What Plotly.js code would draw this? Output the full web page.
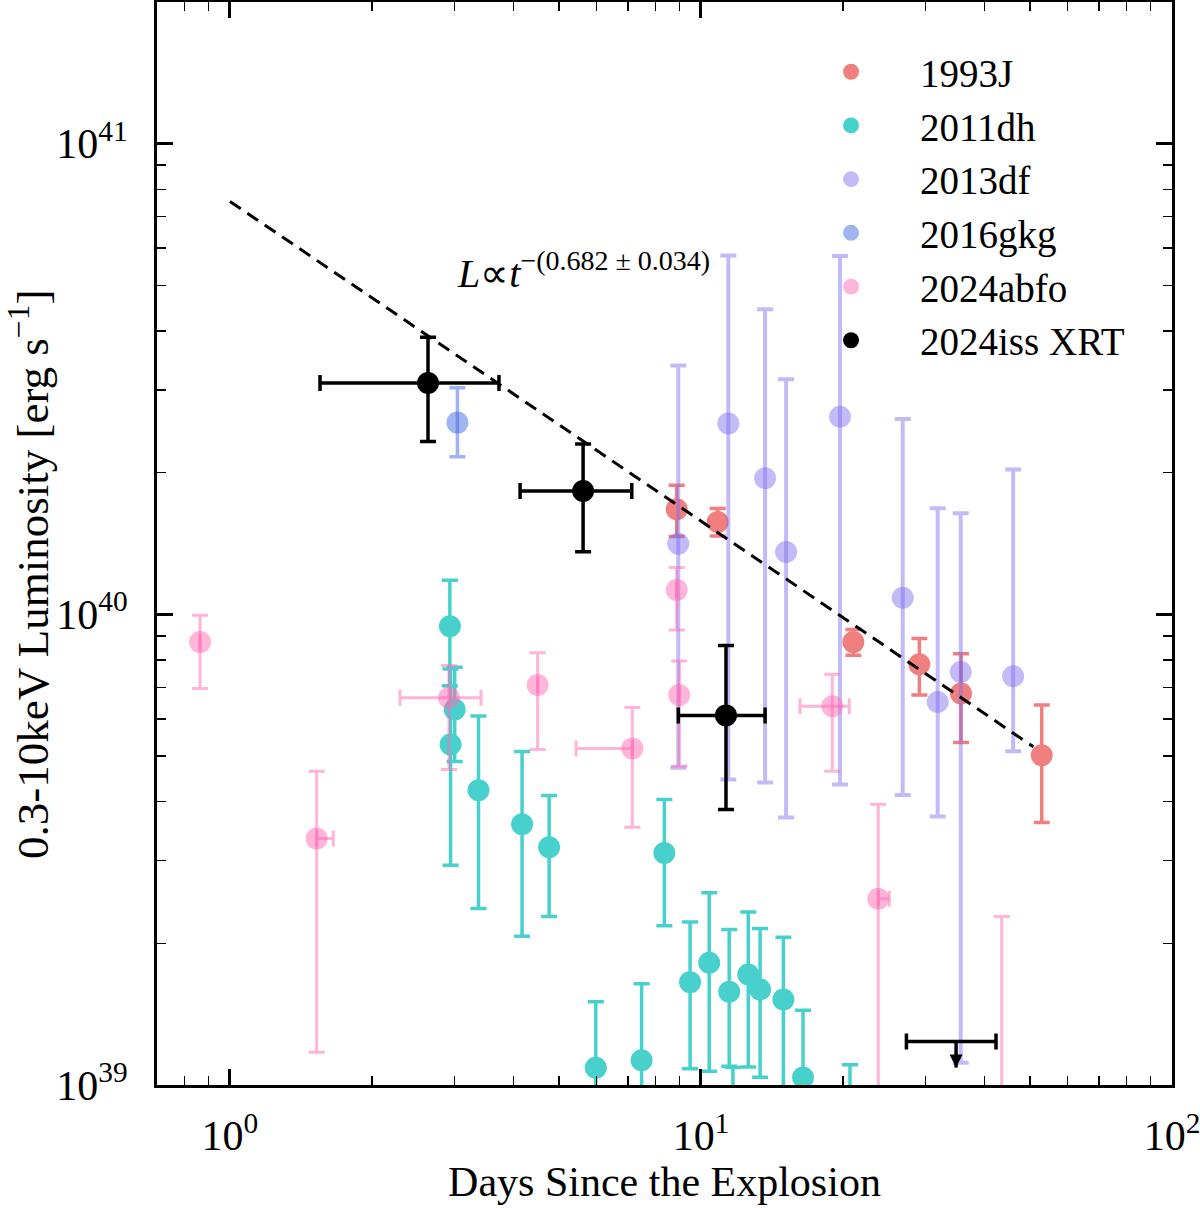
<!DOCTYPE html>
<html><head><meta charset="utf-8">
<script src="https://cdn.plot.ly/plotly-3.0.1.min.js"></script>
<style>body{margin:0;background:#fff}</style>
</head><body>
<div id="chart" style="width:1200px;height:1208px"></div>
<script>
// ---- data (days since explosion, 0.3-10 keV luminosity in erg/s) ----
const sn1993J_t   = [8.88, 10.85, 21.06, 29.08, 35.65, 52.9];
const sn1993J_L   = [1.672e40, 1.571e40, 8.73e39, 7.83e39, 6.79e39, 5.02e39];
const sn1993J_Lhi = [1.880e40, 1.678e40, 9.29e39, 8.89e39, 8.25e39, 6.42e39];
const sn1993J_Llo = [1.463e40, 1.467e40, 8.19e39, 6.74e39, 5.34e39, 3.61e39];

const sn2011dh_t   = [2.93, 2.94, 3.00, 3.37, 4.17, 4.76, 5.98, 7.48, 8.36, 9.48, 10.41, 11.48, 11.69, 12.60, 13.35, 14.96, 16.47, 20.72];
const sn2011dh_L   = [9.43e39, 5.29e39, 6.28e39, 4.23e39, 3.58e39, 3.20e39, 1.088e39, 1.129e39, 3.11e39, 1.654e39, 1.818e39, 1.578e39, 0.80e39, 1.717e39, 1.596e39, 1.520e39, 1.037e39, 0.80e39];
const sn2011dh_Lhi = [1.181e40, 7.65e39, 7.72e39, 6.08e39, 5.11e39, 4.12e39, 1.502e39, 1.641e39, 4.04e39, 2.22e39, 2.56e39, 2.14e39, 1.09e39, 2.33e39, 2.15e39, 2.06e39, 1.442e39, 1.104e39];
const sn2011dh_Llo = [7.05e39, 2.93e39, 4.87e39, 2.37e39, 2.07e39, 2.28e39, 0.674e39, 0.62e39, 2.18e39, 1.083e39, 1.070e39, 1.096e39, 0.55e39, 1.092e39, 1.039e39, 0.98e39, 0.63e39, 0.50e39];

const sn2013df_t   = [8.95, 11.43, 13.68, 15.16, 19.73, 26.81, 31.81, 35.6, 46.0];
const sn2013df_L   = [1.413e40, 2.543e40, 1.946e40, 1.356e40, 2.63e40, 1.085e40, 6.51e39, 7.54e39, 7.39e39];
const sn2013df_Lhi = [3.38e40, 5.79e40, 4.45e40, 3.16e40, 5.77e40, 2.60e40, 1.68e40, 1.639e40, 2.03e40];
const sn2013df_Llo = [4.72e39, 4.46e39, 4.39e39, 3.70e39, 4.35e39, 4.13e39, 3.72e39, 1.115e39, 5.12e39];

const sn2016gkg_t   = [3.04];
const sn2016gkg_L   = [2.555e40];
const sn2016gkg_Lhi = [3.03e40];
const sn2016gkg_Llo = [2.163e40];

const sn2024abfo_t   = [0.864, 1.528, 2.917, 4.50, 7.15, 8.88, 8.99, 19.00, 23.79, 43.5];
const sn2024abfo_tlo = [0.864, 1.528, 2.296, 4.50, 5.43, 8.88, 8.99, 16.23, 23.79, 43.5];
const sn2024abfo_thi = [0.864, 1.657, 3.412, 4.50, 7.15, 8.88, 8.99, 20.65, 25.11, 43.5];
const sn2024abfo_L   = [8.73e39, 3.34e39, 6.65e39, 7.08e39, 5.19e39, 1.126e40, 6.74e39, 6.38e39, 2.487e39, 0.80e39];
const sn2024abfo_Lhi = [9.95e39, 4.64e39, 7.79e39, 8.29e39, 6.34e39, 1.257e40, 7.96e39, 7.46e39, 3.95e39, 2.28e39];
const sn2024abfo_Llo = [6.96e39, 1.174e39, 4.68e39, 5.16e39, 3.53e39, 9.26e39, 4.76e39, 4.64e39, 0.69e39, 0.50e39];

const sn2024iss_t   = [2.633, 5.62, 11.30];
const sn2024iss_tlo = [1.553, 4.13, 8.95];
const sn2024iss_thi = [3.725, 7.13, 13.68];
const sn2024iss_L   = [3.10e40, 1.828e40, 6.10e39];
const sn2024iss_Lhi = [3.88e40, 2.30e40, 8.59e39];
const sn2024iss_Llo = [2.33e40, 1.359e40, 3.85e39];

// 2024iss XRT upper limit
const ul_t   = [34.8];
const ul_tlo = [27.3];
const ul_thi = [42.3];
const ul_L   = [1.237e39];
const ul_arrowTo = [1.089e39];

// power-law fit L ∝ t^-(0.682±0.034), endpoints
const fit_t = [1.0, 50.8];
const fit_L = [7.54e40, 5.23e39];

// tick labels
const xTickVals = [1, 10, 100];
const xTickText = ['10<sup>0</sup>', '10<sup>1</sup>', '10<sup>2</sup>'];
const yTickVals = [1e39, 1e40, 1e41];
const yTickText = ['10<sup>39</sup>', '10<sup>40</sup>', '10<sup>41</sup>'];

const FONT = 'Liberation Serif, Times New Roman, serif';

function diff(a, b) { return a.map((v, i) => v - b[i]); }

function makeTrace(name, t, L, Lhi, Llo, tlo, thi, mColor, eColor, thick) {
  const tr = {
    type: 'scatter', mode: 'markers', name: name,
    x: t, y: L,
    marker: { size: 22, color: mColor, line: { width: 0 } },
    error_y: { type: 'data', symmetric: false, array: diff(Lhi, L), arrayminus: diff(L, Llo),
               color: eColor, thickness: thick, width: 8 },
    cliponaxis: true
  };
  if (tlo) {
    tr.error_x = { type: 'data', symmetric: false, array: diff(thi, t), arrayminus: diff(t, tlo),
                   color: eColor, thickness: thick, width: 8 };
  }
  return tr;
}

const data = [
  makeTrace('1993J', sn1993J_t, sn1993J_L, sn1993J_Lhi, sn1993J_Llo, null, null,
            'rgb(240,128,128)', 'rgb(240,128,128)', 3.5),
  makeTrace('2011dh', sn2011dh_t, sn2011dh_L, sn2011dh_Lhi, sn2011dh_Llo, null, null,
            'rgb(72,209,204)', 'rgb(72,209,204)', 3.5),
  makeTrace('2013df', sn2013df_t, sn2013df_L, sn2013df_Lhi, sn2013df_Llo, null, null,
            'rgba(123,104,238,0.45)', 'rgba(123,104,238,0.45)', 4),
  makeTrace('2016gkg', sn2016gkg_t, sn2016gkg_L, sn2016gkg_Lhi, sn2016gkg_Llo, null, null,
            'rgba(65,105,225,0.5)', 'rgba(65,105,225,0.5)', 3.5),
  makeTrace('2024abfo', sn2024abfo_t, sn2024abfo_L, sn2024abfo_Lhi, sn2024abfo_Llo, sn2024abfo_tlo, sn2024abfo_thi,
            'rgba(255,105,180,0.5)', 'rgba(255,105,180,0.5)', 3),
  makeTrace('2024iss XRT', sn2024iss_t, sn2024iss_L, sn2024iss_Lhi, sn2024iss_Llo, sn2024iss_tlo, sn2024iss_thi,
            'black', 'black', 3.5),
  {
    type: 'scatter', mode: 'markers', name: '2024iss XRT upper limit', showlegend: false,
    x: ul_t, y: ul_L, marker: { size: 1, color: 'rgba(0,0,0,0)' },
    error_x: { type: 'data', symmetric: false, array: diff(ul_thi, ul_t), arrayminus: diff(ul_t, ul_tlo),
               color: 'black', thickness: 3.5, width: 8 },
    error_y: { type: 'data', symmetric: false, array: [0], arrayminus: diff(ul_L, ul_arrowTo),
               color: 'black', thickness: 3.5, width: 0 }
  },
  {
    type: 'scatter', mode: 'markers', name: 'upper-limit arrow', showlegend: false,
    x: ul_t, y: ul_arrowTo, marker: { symbol: 'arrow-down', size: 13, color: 'black', line: { width: 0 } }
  },
  {
    type: 'scatter', mode: 'lines', name: 'fit', showlegend: false,
    x: fit_t, y: fit_L, line: { color: 'black', width: 3, dash: '13px,8px' }
  }
];

function minorVals(decStart, decEnd, lo, hi) {
  const v = [];
  for (let d = decStart; d <= decEnd; d++) for (let k = 2; k <= 9; k++) {
    const val = k * Math.pow(10, d);
    if (val >= lo && val <= hi) v.push(val);
  }
  return v;
}

const axisCommon = {
  type: 'log', showgrid: false, zeroline: false,
  showline: true, linewidth: 3, linecolor: 'black', mirror: 'allticks',
  ticks: 'inside', ticklen: 16, tickwidth: 3, tickcolor: 'black',
  tickfont: { family: FONT, size: 42, color: 'black' },
  ticklabeloverflow: 'allow',
  automargin: false
};

const layout = {
  width: 1200, height: 1208,
  margin: { l: 157, r: 28, t: 2, b: 123 },
  paper_bgcolor: 'white', plot_bgcolor: 'white',
  showlegend: true,
  legend: {
    x: 0.6158, xanchor: 'left', y: 0.965, yanchor: 'top',
    font: { family: FONT, size: 39, color: 'black' },
    bgcolor: 'rgba(0,0,0,0)', borderwidth: 0, itemwidth: 128
  },
  xaxis: Object.assign({}, axisCommon, {
    range: [Math.log10(0.7), 2],
    tickvals: xTickVals,
    ticktext: xTickText,
    ticklabelstandoff: 12,
    minor: { ticks: 'inside', ticklen: 9, tickwidth: 1.5, tickcolor: 'black', tickvals: minorVals(-1, 1, 0.7, 100), showgrid: false },
    title: { text: 'Days Since the Explosion', font: { family: FONT, size: 42, color: 'black' }, standoff: 0 }
  }),
  yaxis: Object.assign({}, axisCommon, {
    range: [39, Math.log10(2e41)],
    tickvals: yTickVals,
    ticktext: yTickText,
    ticklabelstandoff: 18,
    minor: { ticks: 'inside', ticklen: 9, tickwidth: 1.5, tickcolor: 'black', tickvals: minorVals(39, 41, 1e39, 2e41), showgrid: false }
  }),
  annotations: [
    {
      xref: 'paper', yref: 'paper', x: -0.1251, y: 0.471, xanchor: 'center', yanchor: 'middle',
      textangle: -90,
      text: '0.3-10keV Luminosity [erg s<sup>−1</sup>]',
      showarrow: false, font: { family: FONT, size: 45, color: 'black' }
    },
    {
      xref: 'paper', yref: 'paper', x: 0.2936, y: 0.7525, xanchor: 'left', yanchor: 'middle',
      text: '<i>L</i>∝<i>t</i><sup>−(0.682 ± 0.034)</sup>',
      showarrow: false, font: { family: FONT, size: 40, color: 'black' }
    }
  ],
  hovermode: false
};

Plotly.newPlot('chart', data, layout, { displayModeBar: false, staticPlot: true });
</script></body></html>
